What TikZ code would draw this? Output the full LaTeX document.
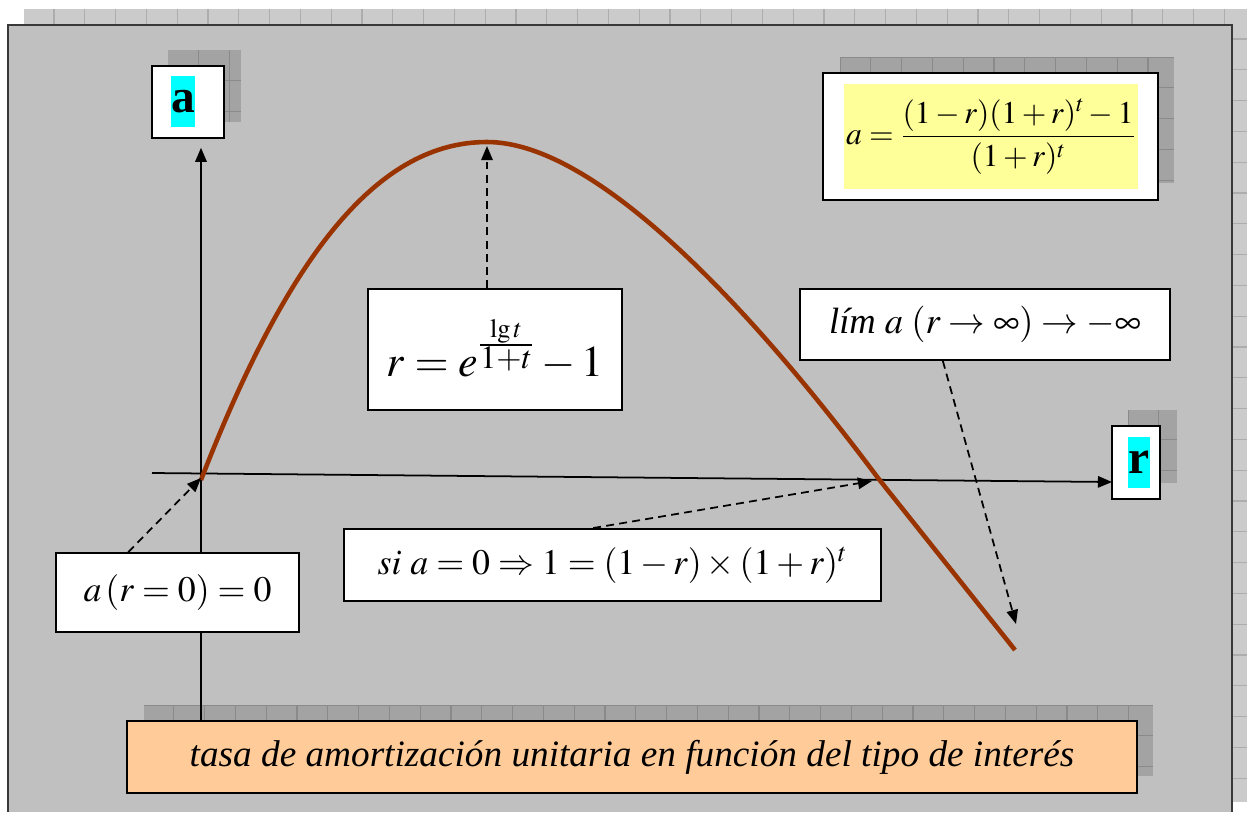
\documentclass[tikz,border=0pt]{standalone}
\usepackage{amsmath}
\usepackage{mathptmx}
\usepackage{fontspec}
\setmainfont{Liberation Serif}
\usetikzlibrary{positioning,arrows.meta}
\definecolor{panelgray}{HTML}{C0C0C0}
\definecolor{stripgray}{HTML}{CBCBCB}
\definecolor{shadegray}{HTML}{A3A3A3}
\definecolor{curvebrown}{HTML}{993300}
\definecolor{noteyellow}{HTML}{FFFF99}
\definecolor{titleorange}{HTML}{FFCC99}
\definecolor{markcyan}{HTML}{00FFFF}
\pgfdeclarelayer{back}
\pgfdeclarelayer{mid}
\pgfsetlayers{back,mid,main}

% fill + spreadsheet cell lines: colour, x1, y1, x2, y2, first column, first row
\newcommand{\cellshade}[7]{%
  \begin{scope}
    \clip (#2,#3) rectangle (#4,#5);
    \fill[#1] (#2,#3) rectangle (#4,#5);
    \foreach \k in {0,...,40} {
      \draw[#1!85!black, line width=0.6pt] ({#6+30.8*\k},#3) -- ({#6+30.8*\k},#5);
      \draw[#1!85!black, line width=0.6pt] (#2,{#7+30.8*\k}) -- (#4,{#7+30.8*\k});
    }
  \end{scope}}

\begin{document}
\begin{tikzpicture}[x=0.02cm, y=-0.02cm,
  box/.style = {draw, line width=1.1pt, fill=white, inner sep=0pt},
  hilite/.style = {fill=markcyan, inner sep=0pt, minimum width=#1, minimum height=1.02cm, font=\fontsize{27}{31}\selectfont\bfseries},
  axis/.style = {line width=1pt, -{Triangle[length=8pt,width=6.5pt]}},
  pointer/.style = {line width=1pt, dash pattern=on 4.5pt off 3pt, -{Triangle[length=8pt,width=6.5pt]}},
  curve/.style = {curvebrown, line width=2.6pt}]
  \useasboundingbox (0,0) rectangle (1247,812);

  \begin{pgfonlayer}{back}
    \fill[white] (0,0) rectangle (1247,812);
    \cellshade{stripgray}{24}{9}{1247}{25}{54}{0}
    \cellshade{stripgray}{1232}{9}{1247}{802}{1300}{39}
    \fill[panelgray] (8,25) rectangle (1232,812);
    \draw[gray!45!black, line width=0.8pt] (8,812) -- (8,25) -- (1232,25) -- (1232,812);
    \cellshade{shadegray}{168}{50}{241}{122}{137}{19}
    \cellshade{shadegray}{840}{57}{1174}{183}{840}{57}
    \cellshade{shadegray}{1128}{410}{1177}{483}{1128}{409}
    \cellshade{shadegray}{144}{705}{1153}{776}{143}{705}
  \end{pgfonlayer}

  \node[box, minimum width=1.44cm, minimum height=1.44cm] (boxA) at (188,102) {};
  \node[hilite=0.44cm] (labA) at (183,101.5) {a};
  \node[box, minimum width=0.96cm, minimum height=1.46cm] (boxR) at (1136,462.5) {};
  \node[hilite=0.28cm] (labR) at (1139,462.5) {r};

  \node[box, minimum width=6.7cm, minimum height=2.54cm] (boxF) at (990.5,136.5) {};
  \node[fill=noteyellow, inner sep=0pt, minimum width=5.88cm, minimum height=2.1cm,
    font=\fontsize{18}{22}\selectfont] (formula) at (991,136.5)
    {$a=\dfrac{(1-r)(1+r)^t-1}{(1+r)^t}$};

  \node[box, minimum width=5.08cm, minimum height=2.42cm, font=\fontsize{25}{30}\selectfont]
    (boxE) at (495,349.5) {$r=e^{\frac{\lg t}{\scriptstyle 1+t}}-1$};
  \node[box, minimum width=7.4cm, minimum height=1.42cm, font=\fontsize{20.8}{25}\selectfont]
    (boxL) at (985,324.5) {\textit{lím} $a\;(r\to\infty)\to-\infty$};
  \node[box, minimum width=10.74cm, minimum height=1.44cm, font=\fontsize{20.4}{24}\selectfont]
    (boxS) at (612.5,565) {$si\ a=0\Rightarrow 1=(1-r)\times(1+r)^t$};
  \node[box, minimum width=4.86cm, minimum height=1.58cm, font=\fontsize{20.4}{24}\selectfont]
    (boxZ) at (177.5,592.5) {$a\,(r=0)=0$};
  \node[box, fill=titleorange, minimum width=20.2cm, minimum height=1.44cm, font=\fontsize{21.2}{25}\selectfont\itshape]
    (title) at (632,757) {tasa de amortización unitaria en función del tipo de interés};

  \coordinate (o) at (201,478);
  \coordinate (xstart) at (152,473);
  \coordinate (xend) at (1112,482);
  \coordinate (top) at (487,146);
  \coordinate (root) at (872,481);
  \coordinate (tail) at (1016,624);

  \begin{pgfonlayer}{mid}
    \draw[axis, shorten >=5pt] (o |- title.north) -- (o |- boxA.south);
    \draw[axis] (xstart) -- (xend);
    \draw[curve] (201,480) .. controls (290,250) and (380,142) .. (487,142)
      .. controls (600,142) and (760,320) .. (878,478) -- (1015,650);
  \end{pgfonlayer}

  \draw[pointer] ([xshift=-28pt]boxZ.north) -- (o);
  \draw[pointer] (boxE.north -| top) -- (top);
  \draw[pointer] ([xshift=-11pt]boxS.north) -- (root);
  \draw[pointer] ([xshift=-24pt]boxL.south) -- (tail);
\end{tikzpicture}
\end{document}
